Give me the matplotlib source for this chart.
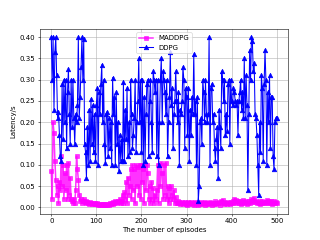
import matplotlib
matplotlib.use('Agg')
import matplotlib.pyplot as plt
import numpy as np

# Episodes (sampled every 2 episodes)
episodes = list(range(0, 501, 2))

# DDPG latency per episode
ddpg = [
    0.40, 0.30, 0.40, 0.23, 0.365, 0.40, 0.31, 0.21, 0.225, 0.17, 0.12, 0.11, 0.29, 0.16, 0.30, 0.20, 0.30, 0.14, 0.27, 0.325, 0.22, 0.15, 0.30, 0.19, 0.30,
    0.21, 0.15, 0.22, 0.20, 0.24, 0.40, 0.21, 0.26, 0.33, 0.40, 0.30, 0.395, 0.15, 0.13, 0.07, 0.19, 0.10, 0.23, 0.11, 0.255, 0.15, 0.24, 0.13, 0.22, 0.11,
    0.24, 0.28, 0.10, 0.27, 0.22, 0.29, 0.335, 0.20, 0.30, 0.15, 0.105, 0.22, 0.225, 0.12, 0.21, 0.14, 0.20, 0.10, 0.305, 0.22, 0.26, 0.10, 0.27, 0.15, 0.20,
    0.085, 0.17, 0.11, 0.16, 0.11, 0.295, 0.11, 0.23, 0.16, 0.28, 0.12, 0.20, 0.13, 0.30, 0.22, 0.14, 0.17, 0.21, 0.30, 0.13, 0.20, 0.25, 0.35, 0.20, 0.30,
    0.13, 0.30, 0.10, 0.26, 0.11, 0.22, 0.29, 0.30, 0.12, 0.25, 0.30, 0.20, 0.13, 0.32, 0.30, 0.27, 0.30, 0.12, 0.30, 0.10, 0.20, 0.30, 0.35, 0.20, 0.32,
    0.30, 0.27, 0.22, 0.30, 0.12, 0.20, 0.26, 0.365, 0.24, 0.28, 0.14, 0.22, 0.25, 0.32, 0.25, 0.20, 0.27, 0.10, 0.23, 0.22, 0.25, 0.33, 0.30, 0.14, 0.28,
    0.26, 0.17, 0.28, 0.11, 0.23, 0.17, 0.26, 0.22, 0.36, 0.22, 0.25, 0.10, 0.26, 0.015, 0.05, 0.20, 0.21, 0.15, 0.30, 0.27, 0.20, 0.30, 0.22, 0.20, 0.22,
    0.40, 0.10, 0.28, 0.29, 0.20, 0.22, 0.14, 0.11, 0.16, 0.19, 0.07, 0.23, 0.19, 0.14, 0.32, 0.30, 0.25, 0.30, 0.17, 0.22, 0.18, 0.29, 0.30, 0.15, 0.30,
    0.25, 0.24, 0.28, 0.27, 0.25, 0.24, 0.25, 0.17, 0.25, 0.27, 0.30, 0.23, 0.27, 0.21, 0.35, 0.21, 0.31, 0.24, 0.04, 0.22, 0.37, 0.30, 0.40, 0.39, 0.32,
    0.34, 0.22, 0.21, 0.17, 0.10, 0.03, 0.20, 0.13, 0.31, 0.28, 0.11, 0.29, 0.37, 0.30, 0.10, 0.27, 0.20, 0.31, 0.14, 0.26, 0.26, 0.12, 0.09, 0.20, 0.21, 0.21,
]

# MADDPG latency per episode
maddpg = [
    0.085, 0.02, 0.20, 0.175, 0.11, 0.065, 0.03, 0.05, 0.01, 0.06, 0.04, 0.12, 0.05, 0.10, 0.02, 0.08, 0.04, 0.10, 0.02, 0.105, 0.03, 0.07, 0.02, 0.015, 0.01,
    0.02, 0.01, 0.04, 0.12, 0.09, 0.065, 0.03, 0.015, 0.02, 0.01, 0.015, 0.02, 0.012, 0.015, 0.01, 0.012, 0.01, 0.008, 0.012, 0.01, 0.008, 0.01, 0.007, 0.009, 0.008,
    0.007, 0.009, 0.006, 0.008, 0.006, 0.007, 0.005, 0.007, 0.006, 0.008, 0.006, 0.007, 0.005, 0.008, 0.006, 0.009, 0.007, 0.01, 0.008, 0.012, 0.01, 0.015, 0.012, 0.01, 0.015,
    0.012, 0.02, 0.01, 0.015, 0.03, 0.01, 0.035, 0.02, 0.06, 0.01, 0.07, 0.03, 0.05, 0.09, 0.02, 0.10, 0.04, 0.09, 0.01, 0.10, 0.05, 0.095, 0.03, 0.10, 0.02,
    0.10, 0.06, 0.09, 0.01, 0.10, 0.04, 0.10, 0.08, 0.02, 0.05, 0.01, 0.06, 0.02, 0.045, 0.01, 0.03, 0.02, 0.04, 0.10, 0.01, 0.10, 0.05, 0.105, 0.08, 0.02,
    0.10, 0.03, 0.105, 0.02, 0.05, 0.01, 0.045, 0.02, 0.05, 0.03, 0.02, 0.04, 0.01, 0.025, 0.01, 0.015, 0.01, 0.012, 0.008, 0.01, 0.012, 0.008, 0.01, 0.012, 0.007,
    0.01, 0.006, 0.012, 0.008, 0.01, 0.013, 0.007, 0.01, 0.006, 0.012, 0.009, 0.007, 0.011, 0.006, 0.01, 0.008, 0.012, 0.007, 0.01, 0.009, 0.013, 0.006, 0.01, 0.008, 0.011,
    0.007, 0.012, 0.009, 0.006, 0.011, 0.008, 0.01, 0.014, 0.007, 0.01, 0.009, 0.012, 0.006, 0.016, 0.01, 0.018, 0.008, 0.012, 0.009, 0.011, 0.007, 0.013, 0.01, 0.008, 0.012,
    0.009, 0.015, 0.01, 0.02, 0.012, 0.018, 0.009, 0.014, 0.011, 0.016, 0.008, 0.013, 0.01, 0.017, 0.009, 0.012, 0.015, 0.008, 0.011, 0.014, 0.009, 0.016, 0.02, 0.012, 0.017,
    0.022, 0.012, 0.015, 0.009, 0.013, 0.01, 0.014, 0.008, 0.011, 0.016, 0.01, 0.013, 0.009, 0.012, 0.018, 0.01, 0.014, 0.009, 0.012, 0.016, 0.008, 0.011, 0.014, 0.01, 0.012, 0.009,
]

fig, ax = plt.subplots(figsize=(6.4, 4.8), dpi=50)

ax.plot(episodes, maddpg, color='magenta', marker='s', markersize=7, linewidth=2.2, alpha=0.8, label='MADDPG')
ax.plot(episodes, ddpg, color='blue', marker='^', markersize=6.5, linewidth=1.5, label='DDPG')

ax.set_yticks(np.arange(0, 0.41, 0.05))
ax.grid(True)
ax.set_xlabel('The number of episodes')
ax.set_ylabel('Latency/s')
ax.legend(loc='upper center')

plt.savefig('out.png', dpi=50)
